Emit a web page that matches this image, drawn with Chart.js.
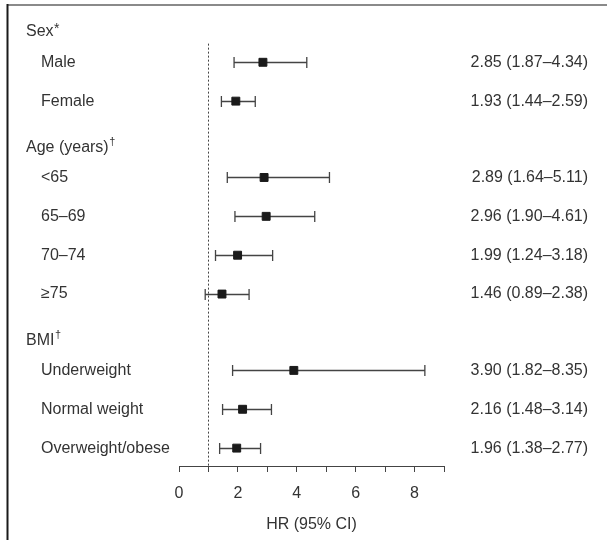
<!DOCTYPE html>
<html>
<head>
<meta charset="utf-8">
<script src="https://cdn.jsdelivr.net/npm/chart.js@4.4.1/dist/chart.umd.min.js"></script>
<style>
  html, body { margin: 0; padding: 0; background: #fff; }
  canvas { display: block; }
</style>
</head>
<body>
<canvas id="forestChart" width="607" height="540"></canvas>
<script>
// Data
const groupNames = ["Sex", "Age (years)", "BMI"];
const groupMarks = ["*", "\u2020", "\u2020"];
const rowLabels = ["Male", "Female", "<65", "65\u201369", "70\u201374", "\u226575", "Underweight", "Normal weight", "Overweight/obese"];
const rowGroup = [0, 0, 1, 1, 1, 1, 2, 2, 2];
const hrValues = [2.85, 1.93, 2.89, 2.96, 1.99, 1.46, 3.90, 2.16, 1.96];
const ciLow = [1.87, 1.44, 1.64, 1.90, 1.24, 0.89, 1.82, 1.48, 1.38];
const ciHigh = [4.34, 2.59, 5.11, 4.61, 3.18, 2.38, 8.35, 3.14, 2.77];
const xTickValues = [0, 1, 2, 3, 4, 5, 6, 7, 8, 9];
const refValue = 1;

const FONT = "'Liberation Sans Narrow', 'Arial Narrow', 'Liberation Sans', sans-serif";
const TEXT_COLOR = "#333";

// Row layout (in row units): header -> first item, last item -> next header
const HEADER_GAP = 0.78;
const GROUP_GAP = 1.185;
const headerPos = [];
const rowPos = [];
let pos = 0;
groupNames.forEach((g, gi) => {
  headerPos.push(pos);
  pos += HEADER_GAP;
  rowGroup.forEach((grp, i) => {
    if (grp === gi) {
      rowPos[i] = pos;
      pos += 1;
    }
  });
  pos += GROUP_GAP - 1;
});

const fmt = (v) => v.toFixed(2);

// Plugin: frame, reference line, CI whiskers, labels and HR text
const forestPlugin = {
  id: "forest",
  beforeDraw(chart) {
    const ctx = chart.ctx;
    ctx.save();
    ctx.lineWidth = 2;
    ctx.strokeStyle = "#8a8a8a";
    ctx.beginPath();
    ctx.moveTo(7, 5);
    ctx.lineTo(chart.width, 5);
    ctx.stroke();
    ctx.strokeStyle = "#1a1a1a";
    ctx.beginPath();
    ctx.moveTo(7.5, 4);
    ctx.lineTo(7.5, chart.height);
    ctx.stroke();
    ctx.restore();
  },
  beforeDatasetsDraw(chart) {
    const ctx = chart.ctx;
    const xs = chart.scales.x;
    const ys = chart.scales.y;
    ctx.save();
    // reference line
    const rx = Math.round(xs.getPixelForValue(refValue)) + 0.5;
    ctx.strokeStyle = "#444";
    ctx.lineWidth = 1;
    ctx.setLineDash([2, 2]);
    ctx.beginPath();
    ctx.moveTo(rx, ys.getPixelForValue(headerPos[0] + 0.3));
    ctx.lineTo(rx, chart.chartArea.bottom);
    ctx.stroke();
    ctx.setLineDash([]);
    // CI whiskers
    ctx.strokeStyle = "#444";
    ctx.lineWidth = 1.3;
    hrValues.forEach((v, i) => {
      const y = Math.round(ys.getPixelForValue(rowPos[i])) + 0.5;
      const x1 = xs.getPixelForValue(ciLow[i]);
      const x2 = xs.getPixelForValue(ciHigh[i]);
      ctx.beginPath();
      ctx.moveTo(x1, y);
      ctx.lineTo(x2, y);
      ctx.moveTo(x1, y - 5.5);
      ctx.lineTo(x1, y + 5.5);
      ctx.moveTo(x2, y - 5.5);
      ctx.lineTo(x2, y + 5.5);
      ctx.stroke();
    });
    ctx.restore();
  },
  afterDraw(chart) {
    const ctx = chart.ctx;
    const ys = chart.scales.y;
    ctx.save();
    ctx.fillStyle = TEXT_COLOR;
    ctx.textBaseline = "middle";
    // group headers
    groupNames.forEach((g, gi) => {
      const y = ys.getPixelForValue(headerPos[gi]);
      ctx.font = "16px " + FONT;
      ctx.textAlign = "left";
      ctx.fillText(g, 26, y);
      const w = ctx.measureText(g).width;
      const mark = groupMarks[gi];
      ctx.font = (mark === "*" ? "14px " : "11px ") + FONT;
      ctx.fillText(mark, 26 + w + 0.5, y - (mark === "*" ? 3 : 5));
    });
    // subgroup labels and HR (95% CI)
    ctx.font = "16px " + FONT;
    rowLabels.forEach((lab, i) => {
      const y = ys.getPixelForValue(rowPos[i]);
      ctx.textAlign = "left";
      ctx.fillText(lab, 41, y);
      ctx.textAlign = "right";
      ctx.fillText(fmt(hrValues[i]) + " (" + fmt(ciLow[i]) + "\u2013" + fmt(ciHigh[i]) + ")", 588, y);
    });
    ctx.restore();
  }
};

const ctx = document.getElementById("forestChart").getContext("2d");
const forestChart = new Chart(ctx, {
  type: "scatter",
  data: {
    datasets: [
      {
        data: hrValues.map((v, i) => ({ x: v, y: rowPos[i] })),
        pointStyle: "rect",
        pointRadius: 5.6,
        pointHoverRadius: 5.6,
        backgroundColor: "#1a1a1a",
        borderColor: "#1a1a1a",
        borderWidth: 1,
      },
    ],
  },
  plugins: [forestPlugin],
  options: {
    responsive: false,
    animation: false,
    events: [],
    layout: {
      padding: { left: 179, right: 163, top: 10.6, bottom: 5.6 },
    },
    plugins: {
      legend: { display: false },
      tooltip: { enabled: false },
    },
    scales: {
      x: {
        type: "linear",
        min: 0,
        max: 9,
        afterBuildTicks(axis) {
          axis.ticks = xTickValues.map((v) => ({ value: v }));
        },
        ticks: {
          callback: (v) => (v % 2 === 0 ? String(v) : ""),
          color: TEXT_COLOR,
          font: { family: FONT, size: 16 },
          padding: 12,
          maxRotation: 0,
          autoSkip: false,
        },
        grid: {
          drawOnChartArea: false,
          drawTicks: true,
          tickLength: 6,
          color: "#444",
        },
        border: { display: true, color: "#444", width: 1 },
        title: {
          display: true,
          text: "HR (95% CI)",
          color: TEXT_COLOR,
          font: { family: FONT, size: 16 },
          padding: { top: 0, bottom: 0 },
        },
      },
      y: {
        type: "linear",
        reverse: true,
        min: -0.55,
        max: 11.17,
        display: false,
      },
    },
  },
});
</script>
</body>
</html>
